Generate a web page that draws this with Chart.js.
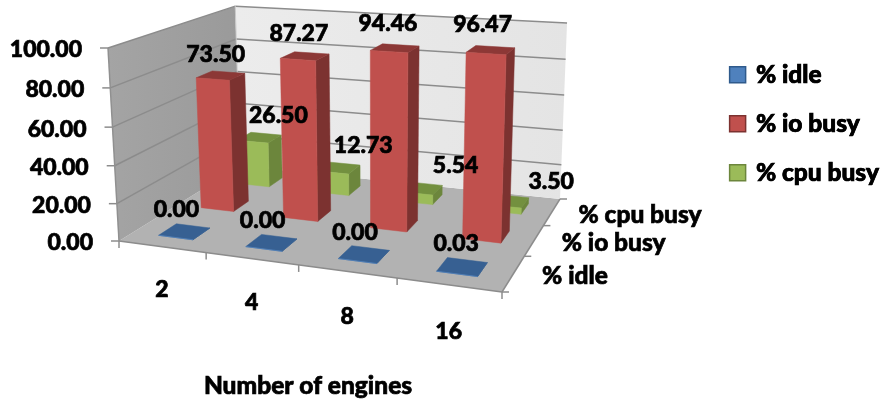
<!DOCTYPE html>
<html>
<head>
<meta charset="utf-8">
<script src="https://cdn.jsdelivr.net/npm/chart.js@4"></script>
<style>
    html, body { margin: 0; padding: 0; background: #fff; }
    #wrap { width: 880px; height: 403px; }
</style>
</head>
<body>
<div id="wrap"><canvas id="engineChart"></canvas></div>
<script>
const engines = ['2', '4', '8', '16'];
const seriesNames = ['% idle', '% io busy', '% cpu busy'];
const idle = [0.00, 0.00, 0.00, 0.03];
const ioBusy = [73.50, 87.27, 94.46, 96.47];
const cpuBusy = [26.50, 12.73, 5.54, 3.50];
const xTitle = 'Number of engines';

const FONT = 'Lato, sans-serif';
const NUM_SIZE = 23;
const WORD_SIZE = 24.5;

// colours of each series: front face, side face, top face
const faces = [
    { front: '#4F81BD', side: '#2F5A8C', top: '#376092' },
    { front: '#C0504D', side: '#7C3230', top: '#8C3836' },
    { front: '#9BBB59', side: '#6C863C', top: '#73903F' }
];

// box corners on screen: floor (front left, front right, back right, back left)
const floorQuad = [[119, 241], [502, 292], [560, 199], [240, 166]];
const frontTop = [108, 48];
const backTop = [567, 24];

// pixel shift of the value labels from the top of their box, per series
const labelOffsets = [
    [[-8, -22], [-9, -22], [-9, -22], [-6, -23]],
    [[-5, -21], [-6, -23], [-7, -25], [-8, -25]],
    [[19, -22], [25, -22], [35, -23], [44, -19]]
];

// where the upright edges of the box meet, far below the floor
function crossing(a, b, c, d) {
    const d1 = (b[0] - a[0]) * (d[1] - c[1]) - (b[1] - a[1]) * (d[0] - c[0]);
    const t = ((c[0] - a[0]) * (d[1] - c[1]) - (c[1] - a[1]) * (d[0] - c[0])) / d1;
    return [a[0] + t * (b[0] - a[0]), a[1] + t * (b[1] - a[1])];
}

const vanish = crossing(frontTop, floorQuad[0], backTop, floorQuad[2]);

function floorMatrix(q) {
    const [p0, p1, p2, p3] = q;
    const dx1 = p1[0] - p2[0], dx2 = p3[0] - p2[0], sx = p0[0] - p1[0] + p2[0] - p3[0];
    const dy1 = p1[1] - p2[1], dy2 = p3[1] - p2[1], sy = p0[1] - p1[1] + p2[1] - p3[1];
    const den = dx1 * dy2 - dx2 * dy1;
    const g = (sx * dy2 - dx2 * sy) / den;
    const h = (dx1 * sy - sx * dy1) / den;
    return {
        a: p1[0] - p0[0] + g * p1[0], b: p3[0] - p0[0] + h * p3[0], c: p0[0],
        d: p1[1] - p0[1] + g * p1[1], e: p3[1] - p0[1] + h * p3[1], f: p0[1],
        g: g, h: h
    };
}

const m = floorMatrix(floorQuad);
const k = (frontTop[1] - floorQuad[0][1]) / (vanish[1] - frontTop[1]);

// u along the engines, v into the depth, w up, all 0..1
function project(u, v, w) {
    const W = m.g * u + m.h * v + 1 + w * k;
    return [
        (m.a * u + m.b * v + m.c + w * k * vanish[0]) / W,
        (m.d * u + m.e * v + m.f + w * k * vanish[1]) / W
    ];
}

function poly(ctx, pts, fill, stroke, lw) {
    ctx.beginPath();
    pts.forEach((p, i) => i ? ctx.lineTo(p[0], p[1]) : ctx.moveTo(p[0], p[1]));
    ctx.closePath();
    if (fill) {
        ctx.fillStyle = fill;
        ctx.fill();
    }
    if (stroke) {
        ctx.strokeStyle = stroke;
        ctx.lineWidth = lw || 1;
        ctx.stroke();
    }
}

function line(ctx, a, b, color, lw) {
    ctx.beginPath();
    ctx.moveTo(a[0], a[1]);
    ctx.lineTo(b[0], b[1]);
    ctx.strokeStyle = color;
    ctx.lineWidth = lw;
    ctx.stroke();
}

// Lato bold is lighter than wanted, a thin outline thickens it
function text(ctx, str, x, y, size, align) {
    ctx.font = '900 ' + size + 'px ' + FONT;
    ctx.fillStyle = '#000';
    ctx.strokeStyle = '#000';
    ctx.lineWidth = 0.7;
    ctx.textAlign = align || 'center';
    ctx.textBaseline = 'middle';
    ctx.fillText(str, x, y);
    ctx.strokeText(str, x, y);
}

function drawWalls(ctx, chart) {
    const y = chart.scales.y, x = chart.scales.x, z = chart.scales.z;
    const hw = tick => (tick.value - y.min) / (y.max - y.min);

    poly(ctx, [project(0, 0, 0), project(1, 0, 0), project(1, 1, 0), project(0, 1, 0)], '#B2B2B2');

    const leftWall = ctx.createLinearGradient(108, 0, 240, 0);
    leftWall.addColorStop(0, '#A4A4A4');
    leftWall.addColorStop(1, '#9A9A9A');
    poly(ctx, [project(0, 0, 0), project(0, 1, 0), project(0, 1, 1), project(0, 0, 1)], leftWall);

    const backWall = ctx.createLinearGradient(236, 0, 567, 0);
    backWall.addColorStop(0, '#ECECEC');
    backWall.addColorStop(1, '#E4E4E4');
    poly(ctx, [project(0, 1, 0), project(1, 1, 0), project(1, 1, 1), project(0, 1, 1)], backWall);

    // gridlines run along the left wall and on across the back wall
    y.ticks.forEach(t => {
        const w = hw(t);
        if (w > 0) {
            line(ctx, project(0, 0, w), project(0, 1, w), '#8C8C8C', 1.5);
            line(ctx, project(0, 1, w), project(1, 1, w), '#8C8C8C', 1.5);
        }
        const p = project(0, 0, w);
        line(ctx, [p[0] - 8, p[1]], p, '#8C8C8C', 1.5);
    });

    line(ctx, project(0, 0, 0), project(0, 0, 1), '#909090', 1.5);
    line(ctx, project(0, 1, 0), project(0, 1, 1), '#C8C8C8', 1);
    line(ctx, project(0, 0, 0), project(1, 0, 0), '#8C8C8C', 1.5);
    line(ctx, project(1, 0, 0), project(1, 1, 0), '#8C8C8C', 1.5);

    // tick marks under the front edge and beside the right edge
    for (let i = 0; i <= engines.length; i++) {
        const p = project(i / engines.length, 0, 0);
        line(ctx, p, [p[0], p[1] + 7], '#8C8C8C', 1.5);
    }
    for (let i = 0; i <= seriesNames.length; i++) {
        const p = project(1, i / seriesNames.length, 0);
        line(ctx, p, [p[0] + 7, p[1]], '#8C8C8C', 1.5);
    }

    // axis text
    y.ticks.forEach(t => {
        const p = project(0, 0, hw(t));
        text(ctx, t.label, p[0] - 26, p[1] + 2, NUM_SIZE, 'right');
    });
    x.ticks.forEach((t, i) => {
        const u = (x.getPixelForTick(i) - x.left) / x.width;
        const p = project(u, 0, 0);
        text(ctx, t.label, p[0], p[1] + 42 + 5 * u, NUM_SIZE);
    });
    z.ticks.forEach((t, i) => {
        const v = (z.bottom - z.getPixelForTick(i)) / z.height;
        const p = project(1, v, 0);
        text(ctx, t.label, p[0] + 29 - 3 * v, p[1] + 3, WORD_SIZE, 'left');
    });
    text(ctx, xTitle, 308, 386, WORD_SIZE);
}

function drawBars(ctx, chart) {
    const x = chart.scales.x, y = chart.scales.y, z = chart.scales.z;
    const depth = 1 / seriesNames.length;
    const labels = [];

    // back row first, left to right, so nearer boxes cover farther ones
    for (let s = seriesNames.length - 1; s >= 0; s--) {
        const meta = chart.getDatasetMeta(s);
        const c = faces[s];
        const vMid = (z.bottom - z.getPixelForTick(s)) / z.height;
        const v0 = vMid - depth * 0.2, v1 = vMid + depth * 0.2;
        meta.data.forEach((bar, i) => {
            const u0 = (bar.x - bar.width / 2 - x.left) / x.width;
            const u1 = (bar.x + bar.width / 2 - x.left) / x.width;
            const w = (y.bottom - bar.y) / y.height;
            poly(ctx, [project(u1, v0, 0), project(u1, v1, 0), project(u1, v1, w), project(u1, v0, w)], c.side, c.side, 0.5);
            poly(ctx, [project(u0, v0, w), project(u1, v0, w), project(u1, v1, w), project(u0, v1, w)], c.top, c.top, 0.5);
            poly(ctx, [project(u0, v0, 0), project(u1, v0, 0), project(u1, v0, w), project(u0, v0, w)], c.front, c.front, 0.5);
            const top = project((u0 + u1) / 2, (v0 + v1) / 2, w);
            const off = labelOffsets[s][i];
            labels.push({ str: chart.data.datasets[s].data[i].toFixed(2), x: top[0] + off[0], y: top[1] + off[1] });
        });
    }

    labels.forEach(l => text(ctx, l.str, l.x, l.y, NUM_SIZE));
}

const box3d = {
    id: 'box3d',
    beforeDatasetsDraw(chart) {
        const ctx = chart.ctx;
        ctx.save();
        drawWalls(ctx, chart);
        drawBars(ctx, chart);
        ctx.restore();
        return false;
    },
    // same outline for the legend words
    afterDraw(chart) {
        const ctx = chart.ctx;
        const lab = chart.options.plugins.legend.labels;
        ctx.save();
        chart.legend.legendHitBoxes.forEach((hit, i) => {
            text(ctx, chart.legend.legendItems[i].text, hit.left + lab.boxWidth + lab.font.size / 2, hit.top + hit.height / 2, lab.font.size, 'left');
        });
        ctx.restore();
    }
};

const seriesValues = [idle, ioBusy, cpuBusy];

new Chart(document.getElementById('engineChart'), {
    type: 'bar',
    plugins: [box3d],
    data: {
        labels: engines,
        datasets: seriesNames.map((name, s) => ({
            label: name,
            data: seriesValues[s],
            backgroundColor: faces[s].front,
            borderColor: faces[s].side,
            borderWidth: 1.5
        }))
    },
    options: {
        responsive: true,
        maintainAspectRatio: false,
        animation: false,
        grouped: false,
        categoryPercentage: 0.4,
        barPercentage: 1,
        layout: { padding: { top: 38, right: -9 } },
        scales: {
            x: { display: false },
            y: {
                display: false,
                min: 0,
                max: 100,
                ticks: { stepSize: 20, callback: v => v.toFixed(2) }
            },
            z: { type: 'category', axis: 'y', position: 'right', display: false, labels: seriesNames, offset: true, reverse: true }
        },
        plugins: {
            title: { display: false },
            tooltip: { enabled: false },
            legend: {
                position: 'right',
                align: 'start',
                labels: {
                    usePointStyle: true,
                    pointStyle: 'rect',
                    boxWidth: 12,
                    boxHeight: 16,
                    padding: 24.5,
                    color: '#000',
                    font: { family: FONT, size: WORD_SIZE, weight: '900' }
                }
            }
        }
    }
});
</script>
</body>
</html>
